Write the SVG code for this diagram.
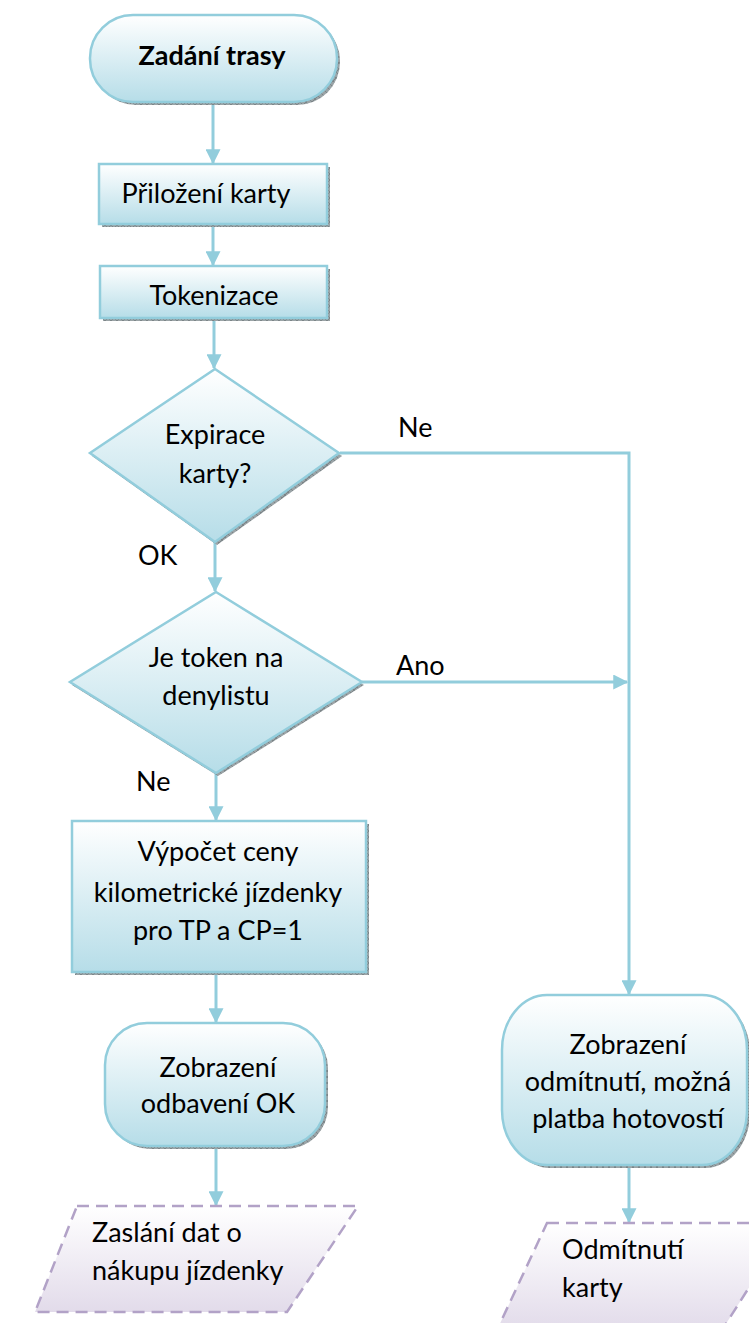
<svg xmlns="http://www.w3.org/2000/svg" width="749" height="1323" viewBox="0 0 749 1323">
<style>
.n{fill:url(#gB);stroke:#92cddc;stroke-width:2.5}
.sh{fill:url(#hatch)}
.io{fill:url(#gP);stroke:#b2a2c7;stroke-width:2.5;stroke-dasharray:12 7}
.t{font-family:Lato,"Open Sans","Liberation Sans",sans-serif;font-size:27px;fill:#000;text-anchor:middle}
.tl{font-family:Lato,"Open Sans","Liberation Sans",sans-serif;font-size:27px;fill:#000}
.c{fill:none;stroke:#92cddc;stroke-width:3}
</style>
<defs>
<linearGradient id="gB" x1="0" y1="0" x2="0" y2="1"><stop offset="0" stop-color="#ffffff"/><stop offset="1" stop-color="#b6dde8"/></linearGradient>
<linearGradient id="gP" x1="0" y1="0" x2="0" y2="1"><stop offset="0" stop-color="#ffffff"/><stop offset="1" stop-color="#e2dbea"/></linearGradient>
<pattern id="hatch" width="6" height="6" patternUnits="userSpaceOnUse"><rect width="6" height="6" fill="#9aa3a6"/><path d="M0 0L6 6M6 0L0 6" stroke="#6f787b" stroke-width="0.7"/></pattern>
<marker id="ar" viewBox="0 0 12 12" refX="11" refY="6" markerWidth="5" markerHeight="5" orient="auto" markerUnits="strokeWidth"><path d="M0 0L12 6L0 12z" fill="#92cddc"/></marker>
</defs>
<g id="connectors">
<path class="c" d="M213 102V163" marker-end="url(#ar)"/>
<path class="c" d="M213 224V265" marker-end="url(#ar)"/>
<path class="c" d="M214 318V368" marker-end="url(#ar)"/>
<path class="c" d="M340 453H629V994" marker-end="url(#ar)"/>
<path class="c" d="M215 542V591" marker-end="url(#ar)"/>
<path class="c" d="M362 682H627" marker-end="url(#ar)"/>
<path class="c" d="M216 773V820" marker-end="url(#ar)"/>
<path class="c" d="M216 972V1022" marker-end="url(#ar)"/>
<path class="c" d="M216 1146V1205" marker-end="url(#ar)"/>
<path class="c" d="M629 1168V1222" marker-end="url(#ar)"/>
<text class="tl" x="398" y="437">Ne</text>
<text class="tl" x="138" y="565">OK</text>
<text class="tl" x="396" y="675">Ano</text>
<text class="tl" x="136" y="791">Ne</text>
</g>
<g id="start">
<rect class="sh" x="93" y="18" width="247" height="87" rx="43"/>
<rect class="n" x="90" y="15" width="247" height="87" rx="43"/>
<text class="t" x="212" y="65" font-weight="bold">Zadání trasy</text>
</g>
<g id="prilozeni">
<rect class="sh" x="102" y="167" width="228" height="60"/>
<rect class="n" x="99" y="164" width="228" height="60"/>
<text class="t" x="206" y="203">Přiložení karty</text>
</g>
<g id="tokenizace">
<rect class="sh" x="103" y="269" width="227" height="52"/>
<rect class="n" x="100" y="266" width="227" height="52"/>
<text class="t" x="214" y="305">Tokenizace</text>
</g>
<g id="expirace">
<polygon class="sh" points="217,372 342,456 217,545 92,456"/>
<polygon class="n" points="215,369 339,453 215,542 90,453"/>
<text class="t" x="215" y="444">Expirace</text>
<text class="t" x="215" y="483">karty?</text>
</g>
<g id="denylist">
<polygon class="sh" points="218,595 364,685 218,776 72,685"/>
<polygon class="n" points="216,592 362,682 216,773 70,682"/>
<text class="t" x="216" y="667">Je token na</text>
<text class="t" x="216" y="705">denylistu</text>
</g>
<g id="vypocet">
<rect class="sh" x="75" y="824" width="294" height="151"/>
<rect class="n" x="72" y="821" width="294" height="151"/>
<text class="t" x="218" y="861">Výpočet ceny</text>
<text class="t" x="218" y="902">kilometrické jízdenky</text>
<text class="t" x="218" y="940">pro TP a CP=1</text>
</g>
<g id="odbaveni">
<rect class="sh" x="108" y="1026" width="220" height="123" rx="42"/>
<rect class="n" x="105" y="1023" width="220" height="123" rx="42"/>
<text class="t" x="218" y="1077">Zobrazení</text>
<text class="t" x="218" y="1113">odbavení OK</text>
</g>
<g id="zaslani">
<polygon class="io" points="77,1206 358,1206 287,1312 35,1312"/>
<text class="tl" x="92" y="1242">Zaslání dat o</text>
<text class="tl" x="92" y="1280">nákupu jízdenky</text>
</g>
<g id="odmitnuti">
<rect class="sh" x="505" y="998" width="245" height="170" rx="45" ry="55"/>
<rect class="n" x="502" y="995" width="245" height="170" rx="45" ry="55"/>
<text class="t" x="628" y="1054">Zobrazení</text>
<text class="t" x="628" y="1091">odmítnutí, možná</text>
<text class="t" x="628" y="1128">platba hotovostí</text>
</g>
<g id="odmitnuti-karty">
<polygon class="io" points="547,1223 790,1223 722,1330 497,1330"/>
<text class="tl" x="562" y="1259">Odmítnutí</text>
<text class="tl" x="562" y="1297">karty</text>
</g>
</svg>
